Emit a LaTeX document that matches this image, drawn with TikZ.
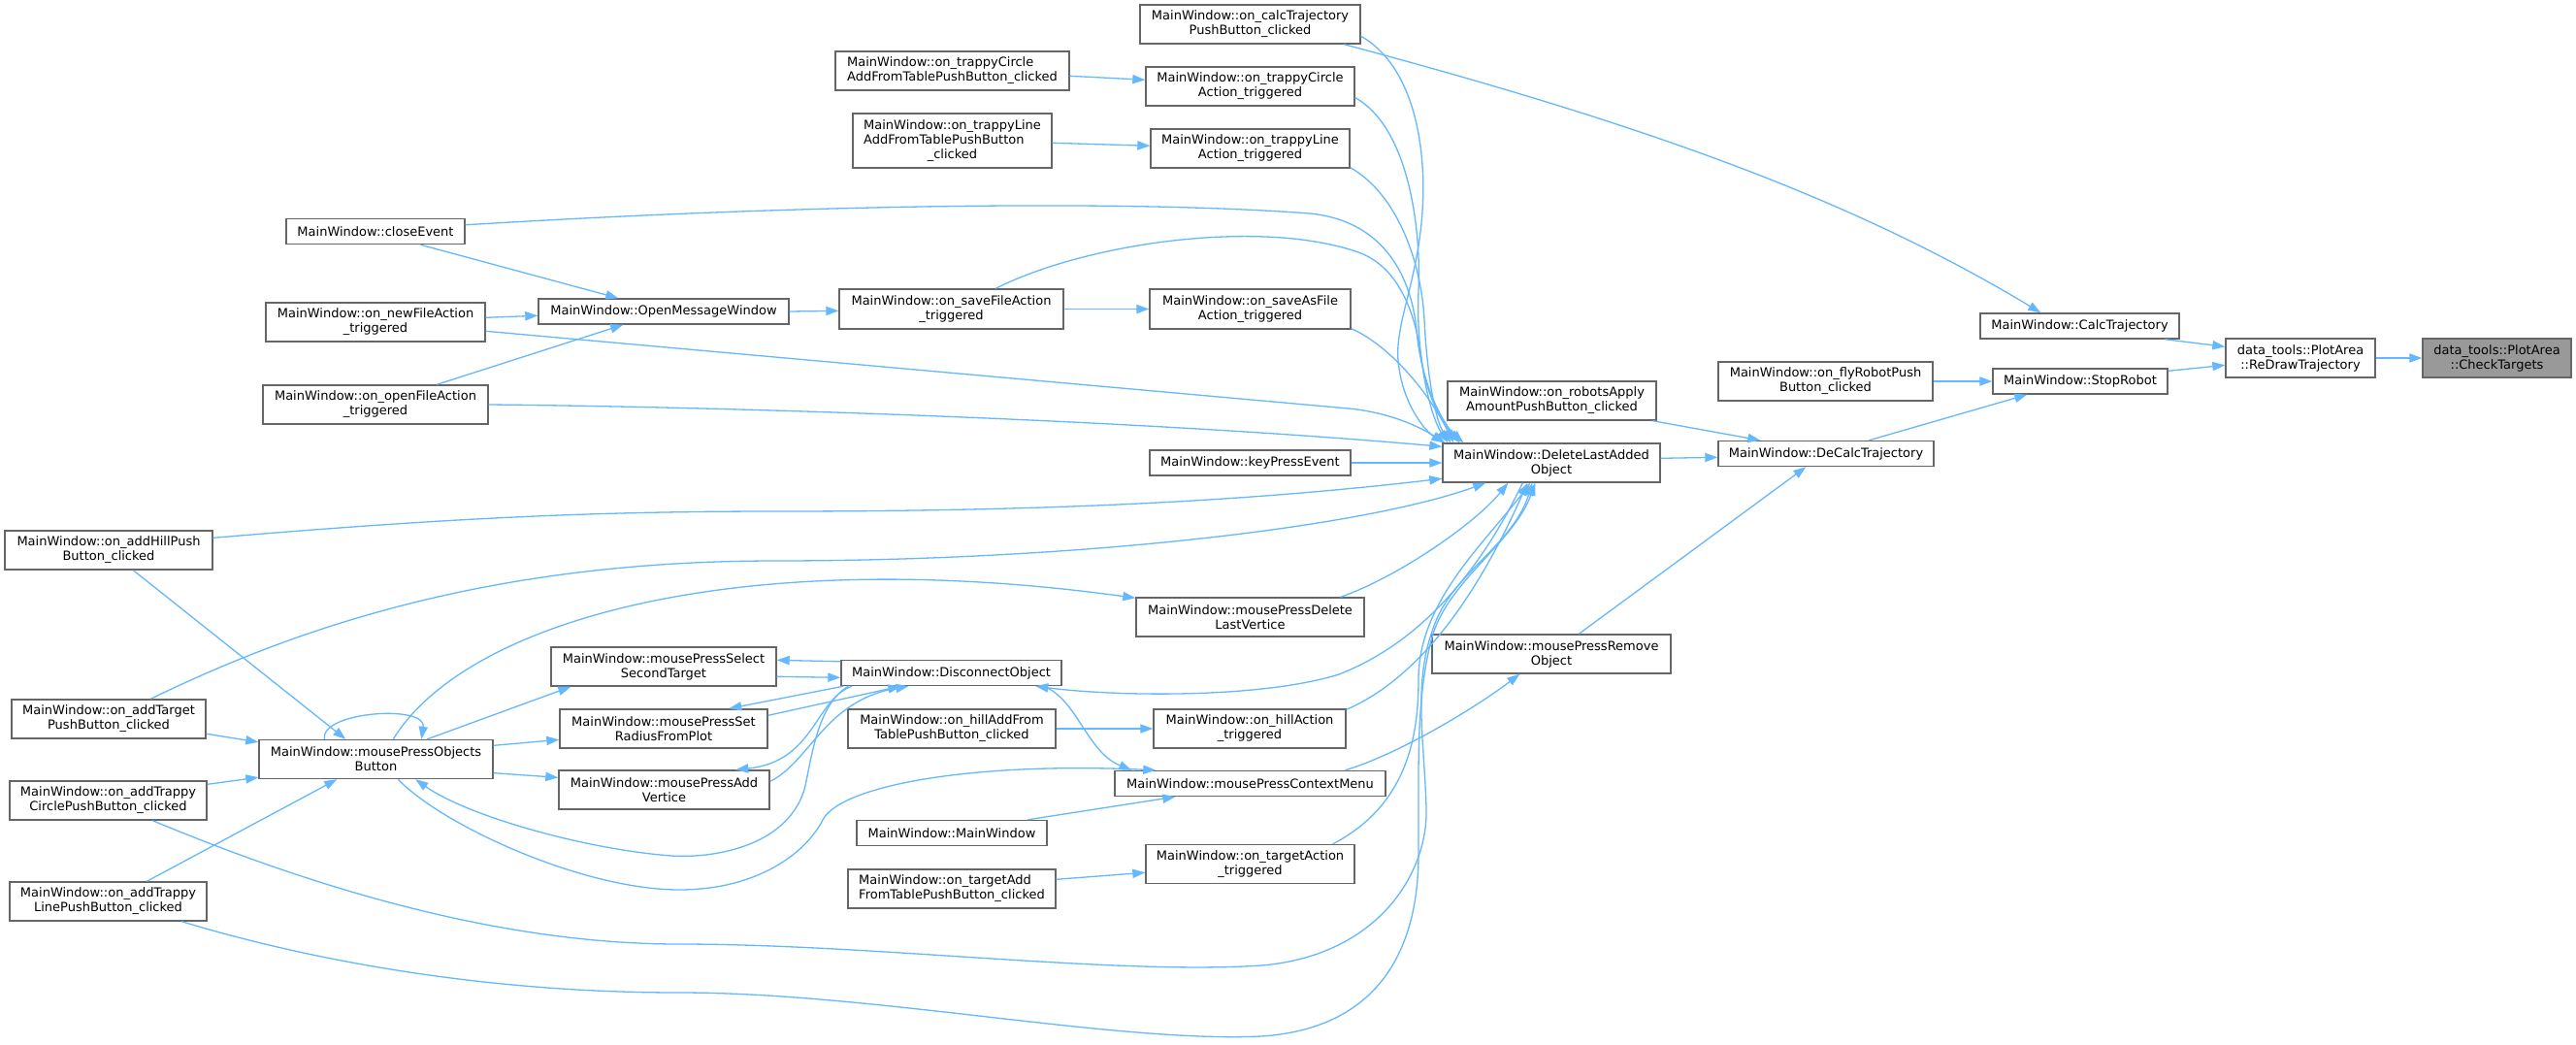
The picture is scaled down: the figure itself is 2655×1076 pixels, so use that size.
\documentclass[tikz,border=0pt]{standalone}
\usepackage{fontspec}
\setmainfont{DejaVu Sans}
\usepackage{calc}
\usetikzlibrary{arrows.meta,calc}
\definecolor{edgeblue}{HTML}{63B8FF}
\definecolor{boxgray}{HTML}{666666}
\definecolor{ctfill}{HTML}{999999}
\tikzset{
  box/.style={draw=boxgray, line width=0.7pt, fill=white, inner sep=0pt, align=center,
    font=\fontsize{6.5pt}{7.5pt}\selectfont, text=black},
  sz/.style 2 args={minimum width=#1*0.5pt, minimum height=#2*0.5pt},
  edge/.style={draw=edgeblue, line width=0.65pt, -{Triangle[length=6.5pt,width=4.6pt]}}
}
\begin{document}
\begin{tikzpicture}[x=0.5pt,y=-0.5pt]
\fill[white] (0,0) rectangle (2655,1076);
\useasboundingbox (0,0) rectangle (2655,1076);
% nodes
\node[box,sz={153}{40},fill=ctfill] (CT) at (2573.5,369) {data\_tools::PlotArea\\::CheckTargets};
\node[box,sz={154}{40}] (RD) at (2371,369) {data\_tools::PlotArea\\::ReDrawTrajectory};
\node[box,sz={205}{26}] (CalcT) at (2143.5,336) {MainWindow::CalcTrajectory};
\node[box,sz={180}{26}] (Stop) at (2144,393) {MainWindow::StopRobot};
\node[box,sz={221}{40}] (fly) at (1881.5,393) {MainWindow::on\_flyRobotPush\\Button\_clicked};
\node[box,sz={222}{26}] (DeCalc) at (1882,467.5) {MainWindow::DeCalcTrajectory};
\node[box,sz={215}{40}] (robots) at (1599.5,413) {MainWindow::on\_robotsApply\\AmountPushButton\_clicked};
\node[box,sz={224}{40}] (DLAO) at (1599,477) {MainWindow::DeleteLastAdded\\Object};
\node[box,sz={246}{40}] (remove) at (1599,674) {MainWindow::mousePressRemove\\Object};
\node[box,sz={227}{40}] (calcPB) at (1288.5,25) {MainWindow::on\_calcTrajectory\\PushButton\_clicked};
\node[box,sz={215}{40}] (tcAct) at (1288.5,89) {MainWindow::on\_trappyCircle\\Action\_triggered};
\node[box,sz={205}{40}] (tlAct) at (1288.5,153) {MainWindow::on\_trappyLine\\Action\_triggered};
\node[box,sz={207}{41}] (saveAs) at (1288.5,318.5) {MainWindow::on\_saveAsFile\\Action\_triggered};
\node[box,sz={207}{26}] (keyPress) at (1288.5,477) {MainWindow::keyPressEvent};
\node[box,sz={235}{40}] (delVert) at (1288.5,636) {MainWindow::mousePressDelete\\LastVertice};
\node[box,sz={198}{40}] (hillAct) at (1288,751) {MainWindow::on\_hillAction\\\_triggered};
\node[box,sz={279}{26}] (ctxMenu) at (1288.5,807.5) {MainWindow::mousePressContextMenu};
\node[box,sz={215}{40}] (tgtAct) at (1288.5,890.5) {MainWindow::on\_targetAction\\\_triggered};
\node[box,sz={241}{40}] (tcAdd) at (981.5,73) {\makebox[\widthof{AddFromTablePushButton\_clicked}][l]{MainWindow::on\_trappyCircle}\\AddFromTablePushButton\_clicked};
\node[box,sz={205}{56}] (tlAdd) at (981.5,145) {MainWindow::on\_trappyLine\\\makebox[\widthof{MainWindow::on\_trappyLine}][l]{AddFromTablePushButton}\\\_clicked};
\node[box,sz={231}{41}] (saveFile) at (980.5,318.5) {MainWindow::on\_saveFileAction\\\_triggered};
\node[box,sz={227}{26}] (disc) at (980.5,693.5) {MainWindow::DisconnectObject};
\node[box,sz={214}{40}] (hillAdd) at (981,751) {MainWindow::on\_hillAddFrom\\TablePushButton\_clicked};
\node[box,sz={196}{26}] (mainW) at (981,858.5) {MainWindow::MainWindow};
\node[box,sz={214}{40}] (tgtAdd) at (981,916) {\makebox[\widthof{FromTablePushButton\_clicked}][l]{MainWindow::on\_targetAdd}\\FromTablePushButton\_clicked};
\node[box,sz={258}{26}] (openMsg) at (684,321) {MainWindow::OpenMessageWindow};
\node[box,sz={232}{40}] (selSec) at (684,687) {MainWindow::mousePressSelect\\SecondTarget};
\node[box,sz={214}{40}] (setRad) at (684,751) {MainWindow::mousePressSet\\RadiusFromPlot};
\node[box,sz={217}{40}] (addVert) at (684.5,814) {MainWindow::mousePressAdd\\Vertice};
\node[box,sz={184}{26}] (closeEv) at (387,238.5) {MainWindow::closeEvent};
\node[box,sz={226}{40}] (newFile) at (387,332) {MainWindow::on\_newFileAction\\\_triggered};
\node[box,sz={232}{40}] (openFile) at (387,417) {MainWindow::on\_openFileAction\\\_triggered};
\node[box,sz={241}{40}] (objBtn) at (387.5,782.5) {MainWindow::mousePressObjects\\Button};
\node[box,sz={214}{40}] (addHill) at (112,567) {MainWindow::on\_addHillPush\\Button\_clicked};
\node[box,sz={200}{40}] (addTarget) at (112,741) {MainWindow::on\_addTarget\\PushButton\_clicked};
\node[box,sz={203}{40}] (addTC) at (111.5,825) {MainWindow::on\_addTrappy\\CirclePushButton\_clicked};
\node[box,sz={203}{40}] (addTL) at (111.5,929) {MainWindow::on\_addTrappy\\LinePushButton\_clicked};
% edges
\draw[edge] (RD.east) -- (CT.west);
\draw[edge] ($(CalcT.south west)+(191,0)$) -- ($(RD.north west)+(0,9)$);
\draw[edge] ($(Stop.north east)+(0,3)$) -- ($(RD.north west)+(0,28)$);
\draw[edge] ($(calcPB.south west)+(211,0)$) .. controls (1686,126) and (1904,202) .. ($(CalcT.north west)+(63,0)$);
\draw[edge] (fly.east) -- (Stop.west);
\draw[edge] ($(DeCalc.north west)+(156,0)$) -- ($(Stop.south west)+(36,0)$);
\draw[edge] ($(robots.south west)+(212,0)$) -- ($(DeCalc.north west)+(44,0)$);
\draw[edge] ($(DLAO.north east)+(0,16)$) -- ($(DeCalc.north west)+(0,17.5)$);
\draw[edge] ($(remove.north west)+(152,0)$) -- ($(DeCalc.south west)+(91,0)$);
\draw[edge] ($(ctxMenu.north west)+(238,0)$) .. controls (1440,778) and (1520,730) .. ($(remove.south west)+(91,0)$);
\draw[edge] ($(tcAdd.north east)+(0,26)$) -- ($(tcAct.north west)+(0,14)$);
\draw[edge] ($(tlAdd.north east)+(0,31)$) -- ($(tlAct.north west)+(0,18)$);
\draw[edge] (openMsg.east) -- ($(saveFile.north west)+(0,23)$);
\draw[edge] (saveFile.east) -- (saveAs.west);
\draw[edge] ($(closeEv.south west)+(139,0)$) -- ($(openMsg.north west)+(83,0)$);
\draw[edge] ($(newFile.north east)+(0,16)$) -- ($(openMsg.north west)+(0,18)$);
\draw[edge] ($(openFile.north west)+(180,0)$) -- ($(openMsg.south west)+(88,0)$);
\draw[edge] (hillAdd.east) -- (hillAct.west);
\draw[edge] ($(mainW.north west)+(177,0)$) -- ($(ctxMenu.south west)+(63,0)$);
\draw[edge] ($(tgtAdd.north east)+(0,11)$) -- ($(tgtAct.north west)+(0,29.5)$);
\draw[edge] ($(addTarget.north east)+(0,36)$) -- ($(objBtn.north west)+(0,3)$);
\draw[edge] ($(addTC.north east)+(0,4)$) -- ($(objBtn.south west)+(0,-2)$);
\draw[edge] ($(addTL.north west)+(142,0)$) -- ($(objBtn.south west)+(81,0)$);
\draw[edge] ($(addHill.south west)+(133,0)$) -- ($(objBtn.north west)+(90,0)$);
\draw[edge] ($(objBtn.north west)+(68,0)$) .. controls (330,733) and (440,726) .. ($(objBtn.north west)+(168,0)$);
\draw[edge] ($(objBtn.north west)+(174,0)$) -- ($(selSec.south west)+(21,0)$);
\draw[edge] ($(objBtn.north east)+(0,6.5)$) -- ($(setRad.north west)+(0,32)$);
\draw[edge] ($(objBtn.south east)+(0,-6.5)$) -- ($(addVert.north west)+(0,8)$);
\draw[edge] ($(objBtn.north west)+(139,0)$) .. controls (480,640) and (760,560) .. ($(delVert.north west)+(0,1)$);
\draw[edge] ($(disc.north west)+(0,2)$) -- ($(selSec.north east)+(0,14)$);
\draw[edge] ($(selSec.north east)+(0,31)$) -- ($(disc.north west)+(0,18.5)$);
\draw[edge] ($(disc.south west)+(3,0)$) -- ($(setRad.north west)+(175,0)$);
\draw[edge] ($(setRad.north east)+(0,7)$) -- ($(disc.south west)+(62,0)$);
\draw[edge] ($(disc.south west)+(12,0)$) .. controls (840,720) and (840,785) .. ($(addVert.north west)+(183,0)$);
\draw[edge] ($(addVert.north east)+(0,12)$) .. controls (835,785) and (850,722) .. ($(disc.south west)+(70,0)$);
\draw[edge] ($(disc.south west)+(8,0)$) .. controls (845,725) and (838,770) .. (830,810) .. controls (815,870) and (740,885) .. (692,882) .. controls (600,875) and (480,840) .. ($(objBtn.south west)+(162,0)$);
\draw[edge] ($(objBtn.south west)+(144,0)$) .. controls (455,850) and (600,917) .. (700,917) .. controls (780,917) and (830,880) .. (848,845) .. controls (866,810) and (1000,785) .. ($(ctxMenu.north west)+(43,0)$);
\draw[edge] ($(disc.south west)+(209,0)$) .. controls (1110,720) and (1120,775) .. ($(ctxMenu.north west)+(18,0)$);
\draw[edge] ($(DLAO.south west)+(83,0)$) .. controls (1530,580) and (1470,660) .. (1380,695) .. controls (1300,720) and (1150,718) .. ($(disc.south west)+(201,0)$);
\draw[edge] ($(delVert.north east)+(-25,0)$) .. controls (1440,595) and (1520,540) .. ($(DLAO.south west)+(68,0)$);
\draw[edge] ($(addTarget.north west)+(144,0)$) .. controls (300,650) and (500,578) .. (800,578) .. controls (1100,578) and (1400,545) .. ($(DLAO.south west)+(45,0)$);
\draw[edge] ($(addHill.north east)+(0,8)$) .. controls (450,535) and (600,527) .. (800,527) .. controls (1100,527) and (1300,515) .. ($(DLAO.north west)+(0,37)$);
\draw[edge] (keyPress.east) -- (DLAO.west);
\draw[edge] (openFile.east) .. controls (800,420) and (1200,435) .. ($(DLAO.north west)+(0,4)$);
\draw[edge] ($(newFile.north east)+(0,30)$) -- (1390,421) .. controls (1430,425) and (1460,438) .. ($(DLAO.north west)+(3,0)$);
\draw[edge] ($(closeEv.north east)+(0,7)$) .. controls (800,212) and (1150,205) .. (1350,220) .. controls (1430,228) and (1455,290) .. (1460,340) .. controls (1465,400) and (1490,440) .. ($(DLAO.north west)+(22,0)$);
\draw[edge] ($(saveFile.north west)+(162,0)$) .. controls (1120,250) and (1300,225) .. (1400,260) .. controls (1445,276) and (1460,330) .. (1465,370) .. controls (1470,410) and (1490,440) .. ($(DLAO.north west)+(18,0)$);
\draw[edge] ($(saveAs.south east)+(0,-1)$) .. controls (1430,355) and (1470,400) .. ($(DLAO.north west)+(12,0)$);
\draw[edge] ($(tlAct.south east)+(0,-1)$) .. controls (1440,200) and (1465,270) .. (1468,330) .. controls (1471,390) and (1480,435) .. ($(DLAO.north west)+(9,0)$);
\draw[edge] ($(tcAct.south east)+(0,-9)$) .. controls (1450,130) and (1465,230) .. (1462,300) .. controls (1459,370) and (1475,430) .. ($(DLAO.north west)+(6,0)$);
\draw[edge] ($(calcPB.north east)+(0,33)$) .. controls (1460,70) and (1472,160) .. (1465,230) .. controls (1458,300) and (1435,340) .. (1442,380) .. controls (1448,420) and (1470,445) .. ($(DLAO.north west)+(2,0)$);
\draw[edge] ($(hillAct.north east)+(0,1)$) .. controls (1460,700) and (1520,620) .. ($(DLAO.south west)+(88,0)$);
\draw[edge] ($(tgtAct.north east)+(-23,0)$) .. controls (1450,830) and (1462,760) .. (1462,700) .. controls (1462,620) and (1530,560) .. ($(DLAO.south west)+(91,0)$);
\draw[edge] ($(addTC.south west)+(148,0)$) .. controls (300,905) and (500,973) .. (700,973) .. controls (900,973) and (1150,1005) .. (1300,995) .. controls (1420,985) and (1472,900) .. (1470,833) .. controls (1468,760) and (1455,700) .. (1480,640) .. controls (1500,590) and (1560,560) .. ($(DLAO.south west)+(93,0)$);
\draw[edge] ($(addTL.south west)+(178,0)$) .. controls (320,990) and (500,1023) .. (700,1023) .. controls (900,1023) and (1150,1075) .. (1300,1068) .. controls (1420,1060) and (1462,980) .. (1462,880) .. controls (1462,780) and (1460,720) .. (1475,660) .. controls (1490,600) and (1560,560) .. ($(DLAO.south west)+(96,0)$);
\end{tikzpicture}
\end{document}
